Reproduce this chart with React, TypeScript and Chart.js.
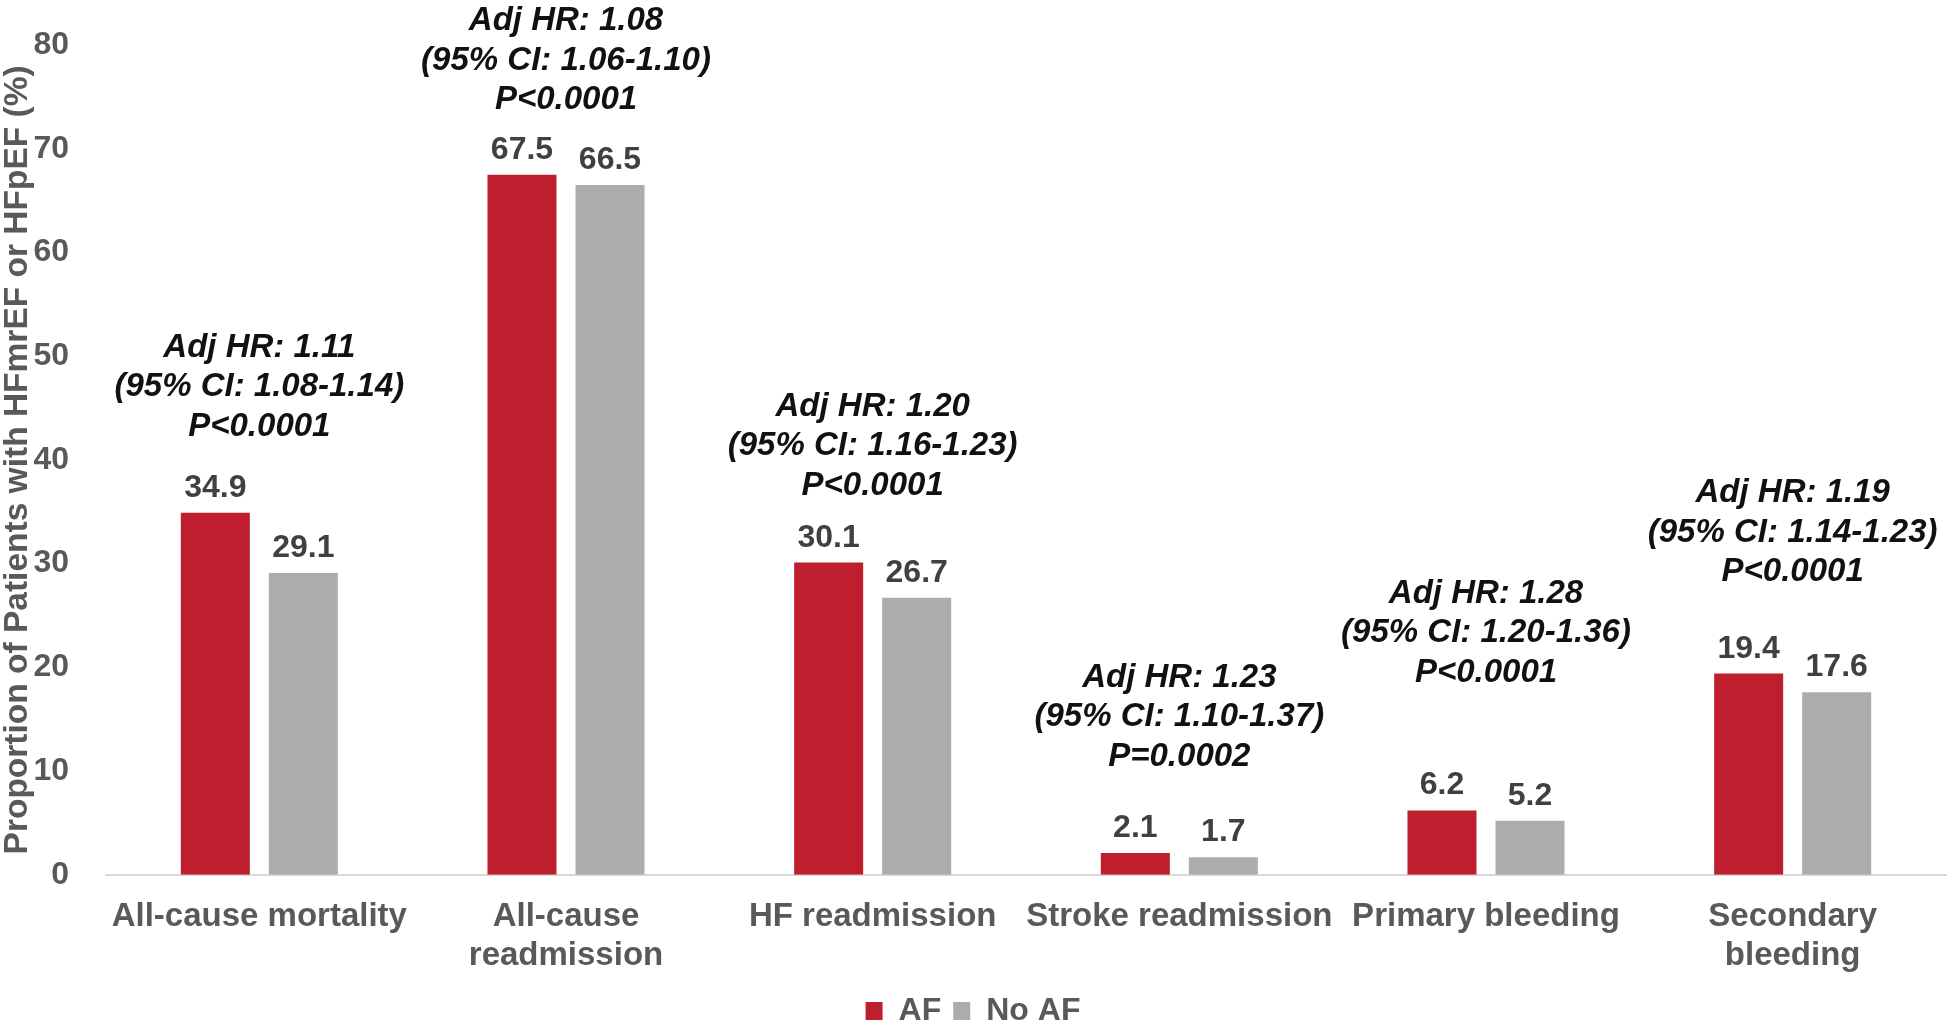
import { Chart, registerables } from 'chart.js'
import { useEffect, useRef } from 'react'

Chart.register(...registerables)

const categories = [
  ['All-cause mortality'],
  ['All-cause', 'readmission'],
  ['HF readmission'],
  ['Stroke readmission'],
  ['Primary bleeding'],
  ['Secondary', 'bleeding'],
]
const afValues = [34.9, 67.5, 30.1, 2.1, 6.2, 19.4]
const noAfValues = [29.1, 66.5, 26.7, 1.7, 5.2, 17.6]

const hrLabels = ['Adj HR: 1.11', 'Adj HR: 1.08', 'Adj HR: 1.20', 'Adj HR: 1.23', 'Adj HR: 1.28', 'Adj HR: 1.19']
const ciLabels = [
  '(95% CI: 1.08-1.14)',
  '(95% CI: 1.06-1.10)',
  '(95% CI: 1.16-1.23)',
  '(95% CI: 1.10-1.37)',
  '(95% CI: 1.20-1.36)',
  '(95% CI: 1.14-1.23)',
]
const pLabels = ['P<0.0001', 'P<0.0001', 'P<0.0001', 'P=0.0002', 'P<0.0001', 'P<0.0001']
// y value (axis units) where the last line of each annotation sits
const annotationAnchor = [43.2, 74.7, 37.5, 11.4, 19.5, 29.2]

const FONT = '"Liberation Sans", Arial, sans-serif'
const RED = '#BE1E2D'
const GREY = '#AEABAB'

const barLabels = {
  id: 'barLabels',
  beforeLayout(chart: any) {
    // squeeze the legend box so it sits close to the bottom edge
    const legend = chart.legend
    if (legend && !legend._patched) {
      const fit = legend.fit.bind(legend)
      legend.fit = () => {
        fit()
        legend.height = 40
      }
      legend._patched = true
    }
  },
  afterDatasetsDraw(chart: Chart) {
    const ctx = chart.ctx
    ctx.save()
    ctx.font = `bold 32px ${FONT}`
    ctx.fillStyle = '#404040'
    ctx.textAlign = 'center'
    ctx.textBaseline = 'alphabetic'
    chart.data.datasets.forEach((ds, i) => {
      const meta = chart.getDatasetMeta(i)
      meta.data.forEach((bar: any, j) => {
        ctx.fillText((ds.data[j] as number).toFixed(1), bar.x, bar.y - 16)
      })
    })

    const x = chart.scales.x
    const y = chart.scales.y
    ctx.font = `italic bold 33px ${FONT}`
    ctx.fillStyle = '#111111'
    ctx.textBaseline = 'middle'
    categories.forEach((_, i) => {
      const cx = x.getPixelForValue(i)
      const cy = y.getPixelForValue(annotationAnchor[i])
      ctx.fillText(hrLabels[i], cx, cy - 79)
      ctx.fillText(ciLabels[i], cx, cy - 39.5)
      ctx.fillText(pLabels[i], cx, cy)
    })
    ctx.restore()
  },
}

function App() {
  const ref = useRef<HTMLCanvasElement>(null)

  useEffect(() => {
    document.body.style.margin = '0'
    if (!ref.current) return
    const chart = new Chart(ref.current, {
      type: 'bar',
      data: {
        labels: categories,
        datasets: [
          {
            label: 'AF',
            data: afValues,
            backgroundColor: RED,
            categoryPercentage: 0.574,
            barPercentage: 0.784,
          },
          {
            label: 'No AF',
            data: noAfValues,
            backgroundColor: GREY,
            categoryPercentage: 0.574,
            barPercentage: 0.784,
          },
        ],
      },
      options: {
        animation: false,
        responsive: true,
        maintainAspectRatio: false,
        layout: { padding: { top: 12, right: 4, left: 0, bottom: 0 } },
        scales: {
          x: {
            grid: { display: true, drawOnChartArea: false, drawTicks: false },
            border: { display: true, color: '#D9D9D9', width: 2 },
            ticks: {
              color: '#595959',
              font: { family: FONT, size: 33, weight: 'bold', lineHeight: 1.2 },
              padding: 22,
              maxRotation: 0,
              autoSkip: false,
            },
            afterFit: (axis: any) => {
              axis.height -= 15
            },
          },
          y: {
            min: 0,
            max: 80,
            grid: { display: false },
            border: { display: false },
            ticks: {
              stepSize: 10,
              color: '#595959',
              font: { family: FONT, size: 32, weight: 'bold', lineHeight: 1 },
              padding: 29,
            },
            title: {
              display: true,
              text: 'Proportion of Patients with HFmrEF or HFpEF (%)',
              color: '#595959',
              font: { family: FONT, size: 33.5, weight: 'bold', lineHeight: 1.05 },
              padding: 0,
            },
            afterFit: (axis: any) => {
              axis.width = 106
            },
          },
        },
        plugins: {
          legend: {
            position: 'bottom',
            labels: {
              color: '#595959',
              font: { family: FONT, size: 32, weight: 'bold' },
              boxWidth: 17,
              boxHeight: 18,
              padding: 12,
            },
          },
          tooltip: { enabled: false },
        },
      },
      plugins: [barLabels],
    })
    return () => chart.destroy()
  }, [])

  return (
    <div style={{ width: 1950, height: 1023, position: 'relative' }}>
      <canvas ref={ref}></canvas>
    </div>
  )
}

export default App
